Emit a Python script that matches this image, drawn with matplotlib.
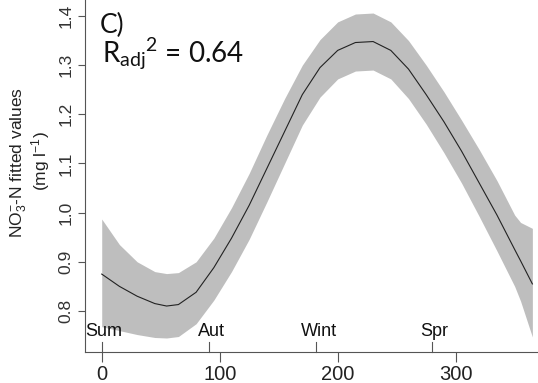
import matplotlib
matplotlib.use("Agg")
import matplotlib.pyplot as plt

# ---- data ----
days = [0, 15, 30, 45, 55, 65, 80, 95, 110, 125, 140, 155, 170, 185, 200,
        215, 230, 245, 260, 275, 290, 305, 320, 335, 350, 355, 365]
fit = [0.875, 0.850, 0.830, 0.815, 0.810, 0.813, 0.838, 0.888, 0.948, 1.015,
       1.090, 1.165, 1.240, 1.295, 1.330, 1.346, 1.348, 1.330, 1.292, 1.240,
       1.185, 1.125, 1.060, 0.995, 0.925, 0.902, 0.855]
upper = [0.987, 0.935, 0.900, 0.880, 0.876, 0.878, 0.900, 0.948, 1.010, 1.080,
         1.158, 1.232, 1.300, 1.352, 1.388, 1.404, 1.406, 1.388, 1.350, 1.300,
         1.246, 1.188, 1.128, 1.065, 0.995, 0.980, 0.968]
lower = [0.768, 0.760, 0.752, 0.746, 0.745, 0.748, 0.774, 0.822, 0.880, 0.946,
         1.022, 1.100, 1.178, 1.235, 1.272, 1.288, 1.290, 1.272, 1.232, 1.180,
         1.122, 1.060, 0.992, 0.922, 0.850, 0.820, 0.747]

season_days = [0, 91, 182, 280]
season_labels = ["Sum", "Aut", "Wint", "Spr"]
x_ticks = [0, 100, 200, 300]
y_ticks = [0.8, 0.9, 1.0, 1.1, 1.2, 1.3, 1.4]

plt.rcParams["font.family"] = ["Liberation Sans", "DejaVu Sans"]
plt.rcParams["mathtext.default"] = "regular"

W, H = 538, 383
fig = plt.figure(figsize=(W / 100, H / 100), dpi=100)

# axes geometry in pixels (R-style, cropped at top/right)
left_px, right_px, top_px, bottom_px = 84.5, 549.6, 0.0, 352.0
ax = fig.add_axes([left_px / W, 1 - bottom_px / H,
                   (right_px - left_px) / W, (bottom_px - top_px) / H])

ax.fill_between(days, lower, upper, color="#bebebe", linewidth=0)
ax.plot(days, fit, color="#222222", linewidth=0.8)

ax.set_xlim(-14.6, 379.6)
ax.set_ylim(0.7165, 1.4325)

spine_col = "#555555"
for s in ["top", "right"]:
    ax.spines[s].set_visible(False)
for s in ["left", "bottom"]:
    ax.spines[s].set_color(spine_col)
    ax.spines[s].set_linewidth(0.8)

ax.set_xticks(x_ticks)
ax.set_xticklabels([str(v) for v in x_ticks])
ax.set_yticks(y_ticks)
ax.set_yticklabels([f"{v:.1f}" for v in y_ticks])
ax.tick_params(axis="x", length=7.5, width=0.8, color=spine_col, pad=2,
               labelsize=14.5, labelcolor="#222222")
ax.tick_params(axis="y", length=5, width=0.8, color=spine_col, pad=3,
               labelsize=12.5, labelcolor="#333333", labelrotation=90)
for lab in ax.get_yticklabels():
    lab.set_va("center")

# season ticks inside bottom axis
trans = ax.get_xaxis_transform()
for d, lab in zip(season_days, season_labels):
    ax.plot([d, d], [0, 10 / (bottom_px - top_px)], transform=trans,
            color=spine_col, linewidth=0.8, clip_on=False)
    ax.annotate(lab, xy=(d, 0), xycoords=trans, xytext=(1.5, 8.5),
                textcoords="offset points", ha="center", va="bottom",
                fontsize=13, color="#111111")

# y label (two lines)
fig.text(19 / W, 1 - 162 / H, r"NO$_3^{-}$-N fitted values", rotation=90,
         ha="center", va="center", fontsize=12.5, color="#222222")
fig.text(41 / W, 1 - 161 / H, r"(mg l$^{-1}$)", rotation=90,
         ha="center", va="center", fontsize=12.5, color="#222222")

# panel annotations
fig.text(100 / W, 1 - 33 / H, "C)", fontsize=19, family=["Lato", "DejaVu Sans"],
         ha="left", va="baseline", color="#111111")
fig.text(102 / W, 1 - 62 / H, r"${R_{adj}}^{2}$ = 0.64", fontsize=20,
         family=["Lato", "DejaVu Sans"], ha="left", va="baseline", color="#111111")

fig.savefig("out.png", dpi=100)
